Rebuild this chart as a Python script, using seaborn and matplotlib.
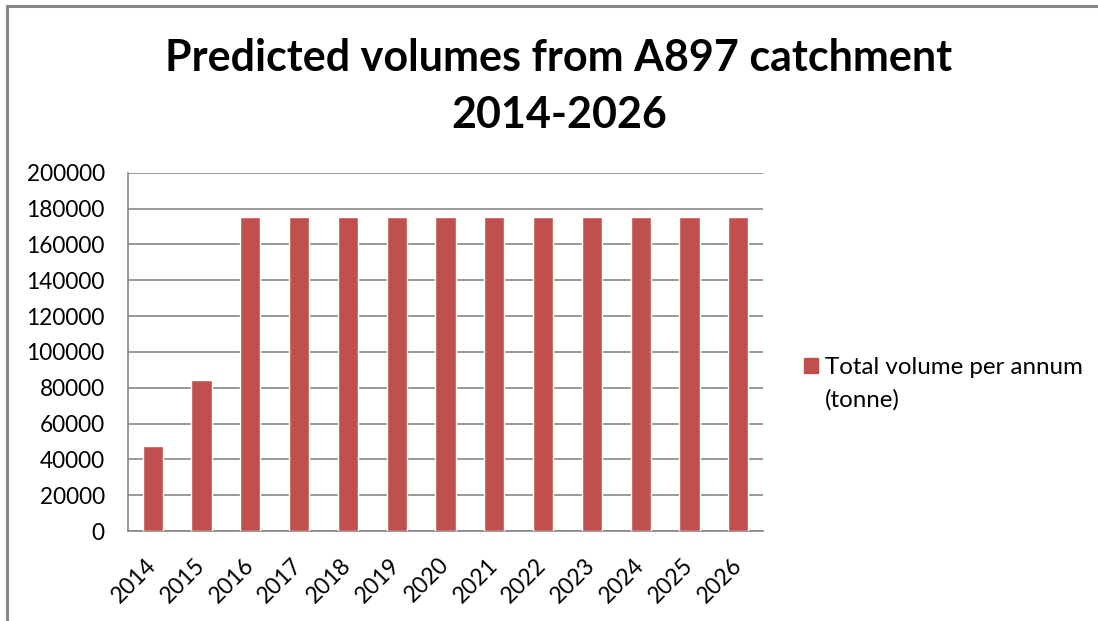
import matplotlib
matplotlib.use("Agg")
import matplotlib.pyplot as plt
from matplotlib.patches import Patch
from matplotlib.lines import Line2D
import seaborn as sns
import pandas as pd

years = ["2014", "2015", "2016", "2017", "2018", "2019", "2020",
         "2021", "2022", "2023", "2024", "2025", "2026"]
volumes = [47500, 84500, 175000, 175000, 175000, 175000, 175000,
           175000, 175000, 175000, 175000, 175000, 175000]
yticks = [0, 20000, 40000, 60000, 80000, 100000, 120000, 140000,
          160000, 180000, 200000]
title_line1 = "Predicted volumes from A897 catchment"
title_line2 = "2014-2026"
series_label_1 = "Total volume per annum"
series_label_2 = "(tonne)"

df = pd.DataFrame({"year": years, "volume": volumes})

sns.set_theme(style="white")
plt.rcParams["font.family"] = ["Lato", "DejaVu Sans"]

W, H = 1098, 621
fig = plt.figure(figsize=(W / 100, H / 100), dpi=100)
ax = fig.add_axes([128.3 / W, 1 - 531 / H, (762.7 - 128.3) / W, (531 - 172.7) / H])

bar_color = "#C0504D"
grid_color = "#868686"

sns.barplot(data=df, x="year", y="volume", color=bar_color, width=0.41,
            saturation=1, ax=ax, zorder=3)

ax.set_ylim(0, 200000)
ax.set_yticks(yticks)
ax.set_yticklabels([str(v) for v in yticks])
ax.yaxis.grid(True, color=grid_color, linewidth=1.2, zorder=0)
ax.set_axisbelow(True)
ax.set_xlabel("")
ax.set_ylabel("")

for side in ["top", "right"]:
    ax.spines[side].set_visible(False)
for side in ["left", "bottom"]:
    ax.spines[side].set_color(grid_color)
    ax.spines[side].set_linewidth(1.2)

ax.tick_params(axis="y", length=0, pad=17, labelsize=16.3, labelcolor="#000000")
ax.tick_params(axis="x", length=0, pad=22, labelsize=16.5, labelcolor="#000000")
for lab in ax.get_xticklabels():
    lab.set_rotation(45)
    lab.set_ha("right")
    lab.set_va("center")
    lab.set_rotation_mode("anchor")

fig.text(559 / W, 1 - 58 / H, title_line1,
         ha="center", va="center", fontsize=31, fontweight="bold", color="#000000")
fig.text(559 / W, 1 - 115 / H, title_line2,
         ha="center", va="center", fontsize=31, fontweight="bold", color="#000000")

handle = Patch(facecolor=bar_color, edgecolor=bar_color)
leg = fig.legend([handle], [series_label_1], loc="upper left",
                 bbox_to_anchor=(804 / W, 1 - 357 / H), frameon=False,
                 fontsize=17.4, handlelength=0.58, handleheight=0.58,
                 handletextpad=0.29, borderpad=0, borderaxespad=0)
for t in leg.get_texts():
    t.set_color("#000000")
fig.text(825 / W, 1 - 407 / H, series_label_2, ha="left", va="baseline",
         fontsize=17.4, color="#000000")

# outer chart border (cropped Excel frame)
fig.add_artist(Line2D([7 / W, 7 / W], [0, 1 - 6 / H], transform=fig.transFigure,
                      color=grid_color, linewidth=2.2))
fig.add_artist(Line2D([7 / W, 1], [1 - 6 / H, 1 - 6 / H], transform=fig.transFigure,
                      color=grid_color, linewidth=2.2))

fig.savefig("out.png", dpi=100)
